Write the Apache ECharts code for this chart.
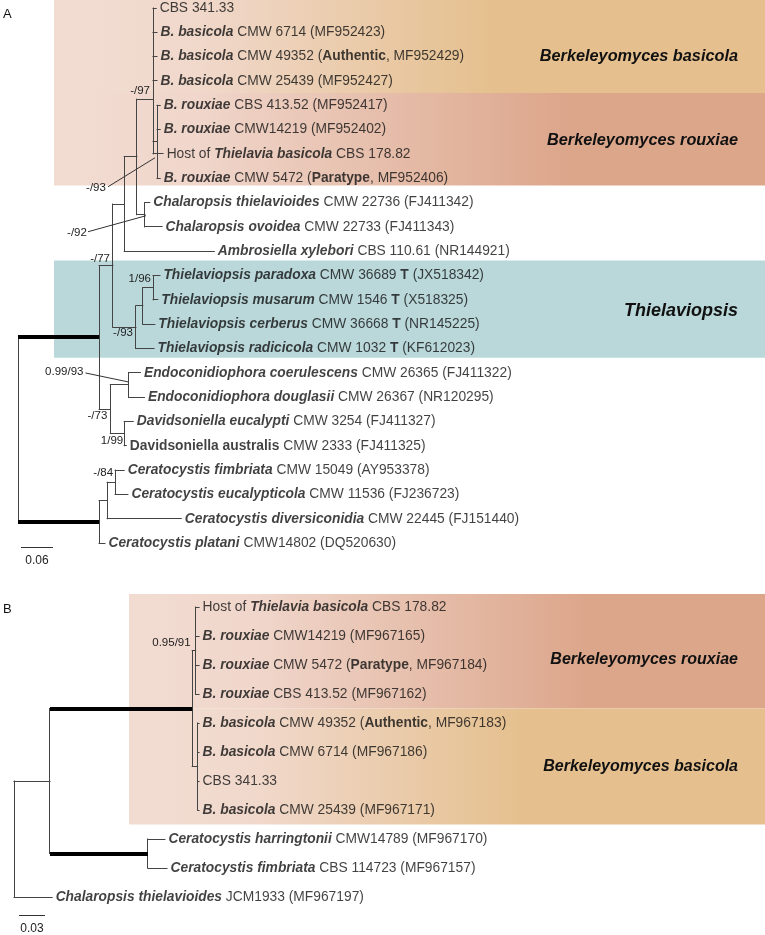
<!DOCTYPE html>
<html>
<head>
<meta charset="utf-8">
<script src="https://cdn.jsdelivr.net/npm/echarts@6/dist/echarts.min.js"></script>
<style>
html,body{margin:0;padding:0;background:#ffffff;}
#chart{width:765px;height:935px;}
</style>
</head>
<body>
<div id="chart"></div>
<script>
// ======================= DATA =======================
// Panel A tree: [node id, parent id, branch length (substitutions / site)]
const nodesA = [
  ["rootA", null, 0],
  ["I", "rootA", 0.152],
  ["C1", "rootA", 0.152],
  ["J", "I", 0.026],
  ["K", "I", 0.021],
  ["N1", "J", 0.021],
  ["T", "J", 0.043],
  ["N2", "N1", 0.024],
  ["amb", "N1", 0.169],
  ["Bk", "N2", 0.030],
  ["Chal", "N2", 0.015],
  ["bas", "Bk", 0.0],
  ["cbs341", "bas", 0.006],
  ["bas6714", "bas", 0.0075],
  ["bas49352", "bas", 0.0075],
  ["bas25439", "bas", 0.0075],
  ["roux", "Bk", 0.0075],
  ["rou413", "roux", 0.006],
  ["rou14219", "roux", 0.006],
  ["host", "Bk", 0.019],
  ["rou5472", "roux", 0.006],
  ["chThiel", "Chal", 0.009],
  ["chOvo", "Chal", 0.032],
  ["T2", "T", 0.013],
  ["T3", "T2", 0.019],
  ["tPar", "T3", 0.013],
  ["tMus", "T3", 0.009],
  ["tCer", "T2", 0.0225],
  ["tRad", "T", 0.034],
  ["Endo", "K", 0.034],
  ["eCoe", "Endo", 0.0225],
  ["eDou", "Endo", 0.030],
  ["Dav", "K", 0.026],
  ["dEuc", "Dav", 0.017],
  ["dAus", "Dav", 0.004],
  ["C2", "C1", 0.015],
  ["C3", "C2", 0.015],
  ["cFim", "C3", 0.017],
  ["cEuc", "C3", 0.024],
  ["cDiv", "C2", 0.139],
  ["cPla", "C1", 0.011]
];
const leafOrderA = ["cbs341","bas6714","bas49352","bas25439","rou413","rou14219","host","rou5472",
  "chThiel","chOvo","amb","tPar","tMus","tCer","tRad","eCoe","eDou","dEuc","dAus","cFim","cEuc","cDiv","cPla"];
const leafLabelsA = [
  "CBS 341.33",
  "{bi|B. basicola} CMW 6714 (MF952423)",
  "{bi|B. basicola} CMW 49352 ({bd|Authentic}, MF952429)",
  "{bi|B. basicola} CMW 25439 (MF952427)",
  "{bi|B. rouxiae} CBS 413.52 (MF952417)",
  "{bi|B. rouxiae} CMW14219 (MF952402)",
  "Host of {bi|Thielavia basicola} CBS 178.82",
  "{bi|B. rouxiae} CMW 5472 ({bd|Paratype}, MF952406)",
  "{bi|Chalaropsis thielavioides} CMW 22736 (FJ411342)",
  "{bi|Chalaropsis ovoidea} CMW 22733 (FJ411343)",
  "{bi|Ambrosiella xylebori} CBS 110.61 (NR144921)",
  "{bi|Thielaviopsis paradoxa} CMW 36689 {bd|T} (JX518342)",
  "{bi|Thielaviopsis musarum} CMW 1546 {bd|T} (X518325)",
  "{bi|Thielaviopsis cerberus} CMW 36668 {bd|T} (NR145225)",
  "{bi|Thielaviopsis radicicola} CMW 1032 {bd|T} (KF612023)",
  "{bi|Endoconidiophora coerulescens} CMW 26365 (FJ411322)",
  "{bi|Endoconidiophora douglasii} CMW 26367 (NR120295)",
  "{bi|Davidsoniella eucalypti} CMW 3254 (FJ411327)",
  "{bd|Davidsoniella australis} CMW 2333 (FJ411325)",
  "{bi|Ceratocystis fimbriata} CMW 15049 (AY953378)",
  "{bi|Ceratocystis eucalypticola} CMW 11536 (FJ236723)",
  "{bi|Ceratocystis diversiconidia} CMW 22445 (FJ151440)",
  "{bi|Ceratocystis platani} CMW14802 (DQ520630)"
];
const thickA = ["I", "C1"];
const supportNodesA = ["Bk","roux","Chal","J","T3","T","Endo","K","Dav","C3"];
const supportValuesA = ["-/97","-/93","-/92","-/77","1/96","-/93","0.99/93","-/73","1/99","-/84"];
const cladeNamesA = ["Berkeleyomyces basicola","Berkeleyomyces rouxiae","Thielaviopsis"];
const cladeFirstA = ["cbs341","rou413","tPar"];
const cladeLastA = ["bas25439","rou5472","tRad"];
const cladeToneA = ["basicola","rouxiae","teal"];
const scaleA = 0.06;
const scaleLabelA = "0.06";

// Panel B tree
const nodesB = [
  ["rootB", null, 0],
  ["P", "rootB", 0.0415],
  ["bChal", "rootB", 0.044],
  ["Bc", "P", 0.164],
  ["Cer", "P", 0.113],
  ["R", "Bc", 0.004],
  ["Bs", "Bc", 0.0063],
  ["bHost", "R", 0.004],
  ["bR14219", "R", 0.004],
  ["bR5472", "R", 0.004],
  ["bR413", "R", 0.004],
  ["bB49352", "Bs", 0.0017],
  ["bB6714", "Bs", 0.0017],
  ["bCBS341", "Bs", 0.0017],
  ["bB25439", "Bs", 0.0017],
  ["bHar", "Cer", 0.0196],
  ["bFim", "Cer", 0.022]
];
const leafOrderB = ["bHost","bR14219","bR5472","bR413","bB49352","bB6714","bCBS341","bB25439","bHar","bFim","bChal"];
const leafLabelsB = [
  "Host of {bi|Thielavia basicola} CBS 178.82",
  "{bi|B. rouxiae} CMW14219 (MF967165)",
  "{bi|B. rouxiae} CMW 5472 ({bd|Paratype}, MF967184)",
  "{bi|B. rouxiae} CBS 413.52 (MF967162)",
  "{bi|B. basicola} CMW 49352 ({bd|Authentic}, MF967183)",
  "{bi|B. basicola} CMW 6714 (MF967186)",
  "CBS 341.33",
  "{bi|B. basicola} CMW 25439 (MF967171)",
  "{bi|Ceratocystis harringtonii} CMW14789 (MF967170)",
  "{bi|Ceratocystis fimbriata} CBS 114723 (MF967157)",
  "{bi|Chalaropsis thielavioides} JCM1933 (MF967197)"
];
const thickB = ["Bc", "Cer"];
const supportNodesB = ["R"];
const supportValuesB = ["0.95/91"];
const cladeNamesB = ["Berkeleyomyces rouxiae","Berkeleyomyces basicola"];
const cladeFirstB = ["bHost","bB49352"];
const cladeLastB = ["bR413","bB25439"];
const cladeToneB = ["rouxiae","basicola"];
const scaleB = 0.03;
const scaleLabelB = "0.03";

// ======================= STYLE / LAYOUT =======================
const FONT = "'Liberation Sans', Arial, Helvetica, sans-serif";
const TIP_SIZE = 13.8;
const TONES = {
  basicola: {type:'linear', x:0, y:0, x2:1, y2:0, colorStops:[
    {offset:0, color:'#F2DCD2'},{offset:0.2, color:'#F0D8CB'},{offset:0.62, color:'#E5C08E'},{offset:1, color:'#E5C08E'}]},
  rouxiae: {type:'linear', x:0, y:0, x2:1, y2:0, colorStops:[
    {offset:0, color:'#F2DCD2'},{offset:0.2, color:'#F0D6CB'},{offset:0.72, color:'#DCA68B'},{offset:1, color:'#DCA68B'}]},
  teal: '#BAD8DA'
};
const PANELS = [
  { key:'A', nodes:nodesA, leafOrder:leafOrderA, labels:leafLabelsA, thick:thickA,
    supNodes:supportNodesA, supVals:supportValuesA,
    cladeNames:cladeNamesA, cladeFirst:cladeFirstA, cladeLast:cladeLastA, cladeTone:cladeToneA,
    scale:scaleA, scaleLabel:scaleLabelA,
    grid:{left:18, top:8, width:747, height:22*24.32}, xMax:747/533.6,
    boxLeft:(54-18)/533.6, boxPad:[[0.5,0.5],[0.5,0.3],[0.62,0.38]], boxLabelShift:[0.5,-0.05,-0.05],
    boxLabelSize:[16.3,16.3,18],
    scalePos:[0.0056, 22.16],
    supPlace:{
      Bk:  {dx:-3, dy:-8, align:'right'},
      roux:{dx:-61, dy:46, align:'center', leader:[-49,45,-2,16]},
      Chal:{dx:-68, dy:18, align:'center', leader:[-57,17,1,1]},
      J:   {dx:-3, dy:-7, align:'right'},
      T3:  {dx:-2, dy:-9, align:'right'},
      T:   {dx:-3, dy:6, align:'right'},
      Endo:{dx:-45, dy:-13, align:'right', leader:[-43,-12,0,-3]},
      K:   {dx:-3, dy:7, align:'right'},
      Dav: {dx:-1, dy:7, align:'right'},
      C3:  {dx:-2, dy:-9, align:'right'}
    }
  },
  { key:'B', nodes:nodesB, leafOrder:leafOrderB, labels:leafLabelsB, thick:thickB,
    supNodes:supportNodesB, supVals:supportValuesB,
    cladeNames:cladeNamesB, cladeFirst:cladeFirstB, cladeLast:cladeLastB, cladeTone:cladeToneB,
    scale:scaleB, scaleLabel:scaleLabelB,
    grid:{left:14, top:607, width:751, height:290}, xMax:751/867,
    boxLeft:(129-14)/867, boxPad:[[0.45,0.5],[0.5,0.5]], boxLabelShift:[0.3,0],
    boxLabelSize:[16,16],
    scalePos:[0.0058, 10.62],
    supPlace:{ R:{dx:-5, dy:-8, align:'right'} }
  }
];

function buildTree(nodes, leafOrder, thick){
  const map = {};
  nodes.forEach(n => { map[n[0]] = {id:n[0], parent:n[1], len:n[2], children:[]}; });
  nodes.forEach(n => { if (n[1] !== null) map[n[1]].children.push(map[n[0]]); });
  const root = map[nodes[0][0]];
  (function setX(node, base){ node.x = base + node.len; node.children.forEach(c => setX(c, node.x)); })(root, 0);
  (function setY(node){
    if (!node.children.length){ node.y = leafOrder.indexOf(node.id); return node.y; }
    const ys = node.children.map(setY);
    node.y = (Math.min(...ys) + Math.max(...ys)) / 2;
    return node.y;
  })(root);
  const segs = [];
  nodes.forEach(n => {
    const node = map[n[0]];
    if (node.children.length){
      const ys = node.children.map(c => c.y);
      segs.push([node.x, Math.min(...ys), node.x, Math.max(...ys), 0]);
    }
    if (node.parent !== null){
      const p = map[node.parent];
      if (node.x > p.x) segs.push([p.x, node.y, node.x, node.y, thick.includes(node.id) ? 1 : 0]);
    }
  });
  return {map, segs};
}

const richStyles = {
  bi: {fontFamily:FONT, fontSize:TIP_SIZE, fontStyle:'italic', fontWeight:'bold', color:'#111'},
  bd: {fontFamily:FONT, fontSize:TIP_SIZE, fontWeight:'bold', color:'#111'}
};

const grids = [], xAxes = [], yAxes = [], series = [];
PANELS.forEach((P, pi) => {
  const tree = buildTree(P.nodes, P.leafOrder, P.thick);
  grids.push(Object.assign({}, P.grid));
  xAxes.push({type:'value', gridIndex:pi, min:0, max:P.xMax, show:false});
  yAxes.push({type:'value', gridIndex:pi, min:0, max:P.leafOrder.length-1, inverse:true, show:false});

  // clade boxes
  series.push({
    type:'custom', xAxisIndex:pi, yAxisIndex:pi, z:1, silent:true, clip:false,
    data: P.cladeNames.map((nm, i) => [P.leafOrder.indexOf(P.cladeFirst[i]), P.leafOrder.indexOf(P.cladeLast[i]), i]),
    renderItem: (params, api) => {
      const i = api.value(2);
      const pad = P.boxPad[i];
      const top = api.coord([P.boxLeft, api.value(0) - pad[0]]);
      const bot = api.coord([P.boxLeft, api.value(1) + pad[1]]);
      const cs = params.coordSys;
      const right = cs.x + cs.width;
      const mid = api.coord([0, (api.value(0) + api.value(1)) / 2 + P.boxLabelShift[i]]);
      return {type:'group', children:[
        {type:'rect', shape:{x:top[0], y:top[1], width:right-top[0], height:bot[1]-top[1]},
         style:{fill:TONES[P.cladeTone[i]]}},
        {type:'text', style:{text:P.cladeNames[i], x:right-27, y:mid[1],
          font:'italic bold ' + P.boxLabelSize[i] + 'px ' + FONT, fill:'#111',
          align:'right', textAlign:'right', verticalAlign:'middle', textVerticalAlign:'middle'}}
      ]};
    }
  });

  // branches
  series.push({
    type:'custom', xAxisIndex:pi, yAxisIndex:pi, z:3, silent:true, clip:false,
    data: tree.segs,
    renderItem: (params, api) => {
      const a = api.coord([api.value(0), api.value(1)]);
      const b = api.coord([api.value(2), api.value(3)]);
      const thick = api.value(4) === 1;
      let x1=a[0], y1=a[1], x2=b[0], y2=b[1];
      const snap = v => thick ? Math.round(v) : Math.round(v - 0.5) + 0.5;
      if (Math.abs(x1 - x2) < 1e-6){ x1 = x2 = snap(x1); } else { y1 = y2 = snap(y1); }
      return {type:'line', shape:{x1, y1, x2, y2},
        style:{stroke: thick ? '#000' : '#444', lineWidth: thick ? 4 : 1, lineCap: thick ? 'butt' : 'square'}};
    }
  });

  // leaf labels
  series.push({
    type:'scatter', xAxisIndex:pi, yAxisIndex:pi, z:4, silent:true,
    symbolSize:1, itemStyle:{color:'rgba(0,0,0,0)'},
    data: P.leafOrder.map((id, i) => [tree.map[id].x, i, i]),
    label:{show:true, position:'right', distance:3, fontFamily:FONT, fontSize:TIP_SIZE, color:'#111',
      formatter: p => P.labels[p.data[2]], rich: richStyles},
    labelLayout:{hideOverlap:false}
  });

  // support values
  series.push({
    type:'custom', xAxisIndex:pi, yAxisIndex:pi, z:4, silent:true, clip:false,
    data: P.supNodes.map((id, i) => [tree.map[id].x, tree.map[id].y, i]),
    renderItem: (params, api) => {
      const i = api.value(2);
      const c = api.coord([api.value(0), api.value(1)]);
      const pl = P.supPlace[P.supNodes[i]];
      const children = [{type:'text', style:{text:P.supVals[i], x:c[0]+pl.dx, y:c[1]+pl.dy,
        font:'11.5px ' + FONT, fill:'#222', align:pl.align, textAlign:pl.align,
        verticalAlign:'middle', textVerticalAlign:'middle'}}];
      if (pl.leader){
        const L = pl.leader;
        children.push({type:'line', shape:{x1:c[0]+L[0], y1:c[1]+L[1], x2:c[0]+L[2], y2:c[1]+L[3]},
          style:{stroke:'#333', lineWidth:1}});
      }
      return {type:'group', children};
    }
  });

  // scale bar
  series.push({
    type:'custom', xAxisIndex:pi, yAxisIndex:pi, z:4, silent:true, clip:false,
    data: [[P.scalePos[0], P.scalePos[1], P.scale]],
    renderItem: (params, api) => {
      const a = api.coord([api.value(0), api.value(1)]);
      const b = api.coord([api.value(0) + api.value(2), api.value(1)]);
      const y = Math.round(a[1]) + 0.5;
      return {type:'group', children:[
        {type:'line', shape:{x1:a[0], y1:y, x2:b[0], y2:y}, style:{stroke:'#333', lineWidth:1}},
        {type:'text', style:{text:P.scaleLabel, x:(a[0]+b[0])/2, y:y+13, font:'12px ' + FONT, fill:'#222',
          align:'center', textAlign:'center', verticalAlign:'middle', textVerticalAlign:'middle'}}
      ]};
    }
  });
});

const chart = echarts.init(document.getElementById('chart'), null, {renderer:'canvas'});
chart.setOption({
  animation:false,
  backgroundColor:'#ffffff',
  grid:grids, xAxis:xAxes, yAxis:yAxes, series,
  graphic:[
    {type:'text', left:3, top:8, style:{text:'A', font:'13px ' + FONT, fill:'#111'}},
    {type:'text', left:3, top:603, style:{text:'B', font:'13px ' + FONT, fill:'#111'}}
  ]
});
</script>
</body>
</html>
